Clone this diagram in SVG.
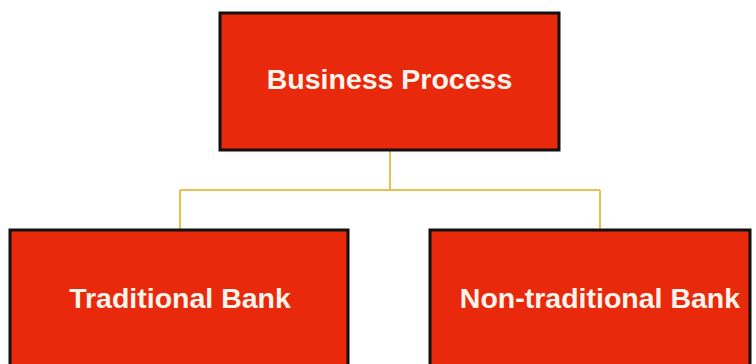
<svg xmlns="http://www.w3.org/2000/svg" width="756" height="364" viewBox="0 0 756 364">
  <style>
    .box { fill: #E8290B; stroke: #111; stroke-width: 3; }
    .label { font-family: "Liberation Sans", Arial, sans-serif; font-weight: bold; font-size: 28.5px; fill: #FFF4EC; text-anchor: middle; }
    .link { fill: none; stroke: #E8C050; stroke-width: 2; }
  </style>
  <rect width="756" height="364" fill="#FFFFFF"/>
  <g id="connectors">
    <path class="link" d="M390 150 V190 M180 190 H600 M180 190 V229 M600 190 V229"/>
  </g>
  <g id="business-process">
    <rect class="box" x="220" y="13" width="339" height="137"/>
    <text class="label" x="389.5" y="89">Business Process</text>
  </g>
  <g id="traditional-bank">
    <rect class="box" x="10" y="230" width="338" height="150"/>
    <text class="label" x="180" y="308">Traditional Bank</text>
  </g>
  <g id="non-traditional-bank">
    <rect class="box" x="430" y="230" width="320" height="150"/>
    <text class="label" x="600" y="308">Non-traditional Bank</text>
  </g>
</svg>
